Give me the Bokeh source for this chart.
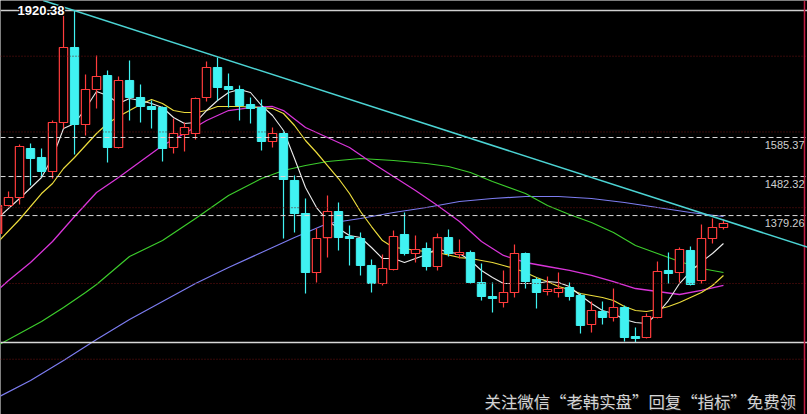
from bokeh.plotting import figure
from bokeh.models import Span, Slope, Label, Range1d, ColumnDataSource
from bokeh.embed import file_html
from bokeh.resources import INLINE

# ---- daily candles (index, open, high, low, close) ----
opens = [1331.9, 1405.9, 1427.0, 1556.3, 1532.6, 1495.6, 1625.0, 1823.0, 1619.7, 1712.1,
         1749.0, 1559.0, 1735.9, 1691.0, 1667.2, 1664.5, 1559.0, 1593.3, 1595.9, 1691.0,
         1770.2, 1720.0, 1712.1, 1672.5, 1664.5, 1574.8, 1595.9, 1471.9, 1384.7, 1229.0,
         1321.3, 1390.0, 1324.0, 1318.7, 1247.5, 1199.9, 1236.9, 1329.3, 1279.1, 1292.3,
         1244.8, 1321.3, 1276.5, 1281.8, 1202.6, 1165.6, 1149.8, 1176.2, 1279.1, 1210.5,
         1178.8, 1176.2, 1189.4, 1168.3, 1091.7, 1126.0, 1110.2, 1136.6, 1060.0, 1057.4,
         1110.2, 1234.3, 1229.0, 1287.1, 1207.9, 1318.7, 1347.8]
highs = [1424.3, 1442.8, 1566.9, 1569.5, 1556.3, 1630.3, 1912.7, 1920.38, 1751.7, 1801.9,
         1762.2, 1746.4, 1788.6, 1725.3, 1683.1, 1667.2, 1635.5, 1625.0, 1691.0, 1786.0,
         1796.6, 1754.3, 1722.7, 1691.0, 1685.7, 1611.8, 1603.9, 1485.1, 1424.3, 1345.1,
         1432.3, 1413.8, 1353.0, 1334.6, 1263.3, 1276.5, 1339.9, 1387.4, 1326.7, 1308.1,
         1331.9, 1342.5, 1316.1, 1287.1, 1252.7, 1202.6, 1234.3, 1302.9, 1281.8, 1215.8,
         1218.4, 1229.0, 1202.6, 1173.5, 1152.4, 1152.4, 1186.7, 1141.9, 1083.8, 1120.7,
         1258.0, 1281.8, 1295.0, 1297.6, 1355.7, 1371.5, 1368.9]
lows = [1318.7, 1403.2, 1408.5, 1458.7, 1479.8, 1477.1, 1609.1, 1540.5, 1590.7, 1661.9,
        1519.4, 1556.3, 1630.3, 1625.0, 1609.1, 1522.0, 1543.1, 1548.4, 1580.1, 1680.4,
        1683.1, 1664.5, 1630.3, 1622.3, 1551.1, 1559.0, 1318.7, 1334.6, 1173.5, 1202.6,
        1268.6, 1287.1, 1247.5, 1221.1, 1176.2, 1194.7, 1234.3, 1273.9, 1255.4, 1234.3,
        1234.3, 1271.2, 1265.9, 1199.9, 1155.0, 1123.4, 1136.6, 1163.0, 1186.7, 1133.9,
        1168.3, 1163.0, 1155.0, 1067.9, 1070.5, 1091.7, 1099.6, 1046.8, 1044.2, 1054.7,
        1108.0, 1199.9, 1202.6, 1194.7, 1199.9, 1305.5, 1342.5]
closes = [1405.9, 1427.0, 1561.6, 1529.9, 1495.6, 1625.0, 1823.0, 1619.7, 1712.1, 1746.4,
          1559.0, 1735.9, 1691.0, 1667.2, 1659.3, 1556.3, 1595.9, 1611.8, 1688.3, 1770.2,
          1717.4, 1712.1, 1669.9, 1661.9, 1574.8, 1595.9, 1474.5, 1384.7, 1229.0, 1318.7,
          1390.0, 1321.3, 1318.7, 1247.5, 1199.9, 1239.5, 1324.0, 1279.1, 1289.7, 1244.8,
          1321.3, 1279.1, 1281.8, 1202.6, 1165.6, 1160.3, 1176.2, 1279.1, 1205.2, 1176.2,
          1184.1, 1186.7, 1165.6, 1089.1, 1128.7, 1110.2, 1136.6, 1057.4, 1054.7, 1112.8,
          1231.6, 1226.3, 1289.7, 1197.3, 1318.7, 1347.8, 1358.3]
days = list(range(len(opens)))

# ---- moving averages (index, value) ----
ma5_idx = [0, 2, 4, 5, 6, 7, 8, 9, 10, 11, 12, 13, 14, 15, 16, 17, 18, 19, 20, 21, 22, 23, 24,
           25, 26, 27, 28, 29, 30, 31, 32, 33, 34, 35, 36, 37, 38, 39, 40, 41, 42, 43, 44, 45,
           46, 47, 48, 49, 50, 51, 52, 53, 54, 55, 56, 57, 58, 59, 60, 61, 62, 63, 64, 65, 66]
ma5_val = [1371.5, 1424.3, 1479.8, 1532.6, 1609.1, 1622.3, 1661.9, 1706.8, 1696.3, 1675.1,
           1688.3, 1683.1, 1675.1, 1664.5, 1638.2, 1622.3, 1625.0, 1656.6, 1683.1, 1704.2,
           1712.1, 1704.2, 1669.9, 1643.5, 1603.9, 1529.9, 1453.4, 1400.5, 1366.3, 1345.1,
           1326.7, 1321.3, 1295.0, 1265.9, 1265.9, 1255.4, 1265.9, 1276.5, 1292.3, 1281.8,
           1279.1, 1260.7, 1234.3, 1215.8, 1199.9, 1199.9, 1199.9, 1199.9, 1205.2, 1202.6,
           1192.0, 1168.3, 1147.1, 1128.7, 1120.7, 1104.9, 1097.0, 1094.3, 1120.7, 1155.0,
           1199.9, 1231.6, 1257.0, 1279.1, 1305.5]

ma10_idx = [0, 2, 4, 5, 6, 7, 8, 9, 10, 11, 12, 13, 14, 15, 16, 17, 18, 19, 20, 22, 24, 25,
            26, 27, 28, 29, 30, 31, 32, 33, 34, 35, 36, 37, 38, 40, 42, 43, 44, 45, 46, 47,
            48, 49, 50, 51, 52, 53, 54, 55, 56, 57, 58, 59, 60, 61, 62, 63, 64, 65, 66]
ma10_val = [1308.1, 1368.9, 1437.5, 1463.9, 1503.5, 1532.6, 1564.3, 1595.9, 1622.3, 1640.8,
            1656.6, 1672.5, 1685.7, 1675.1, 1656.6, 1651.4, 1651.4, 1656.6, 1667.2,
            1667.2, 1664.5, 1661.9, 1648.7, 1617.1, 1577.5, 1545.8, 1511.4, 1477.1, 1437.5,
            1390.0, 1350.4, 1313.4, 1295.0, 1292.3, 1287.1,
            1281.8, 1268.5, 1265.9, 1260.7, 1255.4, 1247.5, 1239.5, 1229.0, 1215.8, 1205.2,
            1192.0, 1184.1, 1173.5, 1168.3, 1163.0, 1155.0, 1139.3, 1128.7, 1126.0, 1131.3,
            1139.3, 1149.8, 1163.0, 1176.2, 1194.7, 1221.1]

ma20_idx = [0, 1, 3, 5, 7, 9, 11, 13, 15, 17, 19, 21, 23, 25, 26, 28, 30, 32, 34, 36, 38,
            40, 42, 44, 46, 48, 50, 52, 54, 56, 58, 60, 62, 64, 66]
ma20_val = [1181.5, 1207.9, 1255.4, 1310.8, 1376.8, 1440.2, 1479.8, 1522.0, 1564.3, 1595.9,
            1630.3, 1656.6, 1664.5, 1667.2, 1656.6, 1611.8, 1585.4, 1559.0, 1519.4, 1482.4,
            1445.5, 1405.9, 1363.6, 1310.8, 1273.9, 1255.4, 1244.8, 1234.3, 1221.1, 1205.2,
            1186.7, 1178.8, 1170.9, 1181.5, 1194.7]

ma60_idx = [0, 2, 4, 6, 8, 9, 12, 15, 18, 21, 24, 26, 28, 30, 33, 36, 39, 41, 43, 45, 48,
            50, 52, 54, 56, 58, 60, 62, 64, 66]
ma60_val = [1036.3, 1067.9, 1099.6, 1136.6, 1176.2, 1197.3, 1271.2, 1313.4, 1371.5, 1432.3,
            1477.1, 1498.2, 1511.5, 1522.0, 1529.9, 1524.6, 1516.7, 1508.8, 1493.0, 1469.2,
            1437.5, 1405.9, 1382.1, 1360.9, 1334.6, 1300.3, 1279.1, 1258.0, 1239.5, 1229.0]

ma120_idx = [0, 3, 6, 9, 12, 15, 18, 21, 24, 27, 30, 33, 36, 39, 42, 45, 48, 51, 54, 57, 60,
             63, 66]
ma120_val = [898.9, 943.9, 996.6, 1052.1, 1104.9, 1152.4, 1199.9, 1242.2, 1281.8, 1321.4,
             1358.3, 1371.5, 1387.4, 1400.5, 1416.4, 1424.3, 1429.6, 1429.6, 1424.3, 1413.8,
             1400.5, 1387.4, 1376.8]

# ---- reference levels ----
fib_levels = [1585.37, 1482.32, 1379.26]
fib_labels = ["1585.37", "1482.32", "1379.26"]
grid_levels = [1000, 1200, 1400, 1600, 1800]
high_label = "1920.38"
# descending resistance line through two anchors
trend_x = [7, 65]
trend_y = [1920.38, 1376.8]
watermark = "关注微信“老韩实盘”回复“指标”免费领"

UP = "#ff3c3c"
DOWN = "#40f2f2"

W, H = 807, 414
X0, X1 = 0.27, 73.64
Y0, Y1 = 854.1, 1947.05


def px_x(px):
    return X0 + px * (X1 - X0) / W


def px_y(py):
    return Y1 - py * (Y1 - Y0) / H


p = figure(width=W, height=H, x_range=Range1d(X0, X1), y_range=Range1d(Y0, Y1),
           output_backend="svg", toolbar_location=None, min_border=0,
           background_fill_color="black", border_fill_color="black",
           outline_line_color=None)
p.xaxis.visible = False
p.yaxis.visible = False
p.xgrid.visible = False
p.ygrid.visible = False

# price grid
for lv in grid_levels:
    p.add_layout(Span(location=lv, dimension="width", line_color="#6e1212",
                      line_width=1, line_dash="1 2"))

# period high / low
p.add_layout(Span(location=max(highs), dimension="width", line_color="#d0d0d0", line_width=1.5))
p.add_layout(Span(location=min(lows), dimension="width", line_color="#d8d8d8", line_width=1.5))

# retracement levels
for lv in fib_levels:
    p.add_layout(Span(location=lv, dimension="width", line_color="#dcdcdc",
                      line_width=1, line_dash="5 3"))

# right border line
p.add_layout(Span(location=px_x(804), dimension="height", line_color="#c41c44", line_width=1.5))

# moving averages
p.line(ma120_idx, ma120_val, line_color="#7c7cf0", line_width=1.2)
p.line(ma60_idx, ma60_val, line_color="#3ccc2c", line_width=1.2)
p.line(ma20_idx, ma20_val, line_color="#d834d8", line_width=1.3)
p.line(ma10_idx, ma10_val, line_color="#ecdc3c", line_width=1.2)
p.line(ma5_idx, ma5_val, line_color="#ececec", line_width=1.1)

# candles
up = [i for i in days if closes[i] >= opens[i]]
dn = [i for i in days if closes[i] < opens[i]]


def src(ix):
    return ColumnDataSource(dict(
        x=[days[i] for i in ix],
        hi=[highs[i] for i in ix],
        lo=[lows[i] for i in ix],
        top=[max(opens[i], closes[i]) for i in ix],
        bot=[min(opens[i], closes[i]) for i in ix],
    ))


s_up, s_dn = src(up), src(dn)
p.segment("x", "hi", "x", "lo", source=s_dn, line_color=DOWN, line_width=1.2)
p.vbar(x="x", top="top", bottom="bot", width=0.76, source=s_dn,
       fill_color=DOWN, line_color=DOWN, line_width=1)
p.segment("x", "hi", "x", "lo", source=s_up, line_color=UP, line_width=1.2)
p.vbar(x="x", top="top", bottom="bot", width=0.76, source=s_up,
       fill_color="black", line_color=UP, line_width=1.2)

# resistance line
gradient = (trend_y[1] - trend_y[0]) / (trend_x[1] - trend_x[0])
p.add_layout(Slope(gradient=gradient, y_intercept=trend_y[0] - gradient * trend_x[0],
                   line_color="#4cd4d4", line_width=1.5))

# level captions
for lv, txt in zip(fib_levels, fib_labels):
    p.add_layout(Label(x=X1, y=lv, x_offset=-3, y_offset=-3, text=txt,
                       text_font="Liberation Sans", text_font_size="11px",
                       text_color="#cfcfcf", text_align="right", text_baseline="top"))

hx = px_x(17)
for dx in (-1, 0, 1):
    for dy in (-1, 0, 1):
        if dx or dy:
            p.add_layout(Label(x=hx, y=max(highs), x_offset=dx, y_offset=dy, text=high_label,
                               text_font="Liberation Sans", text_font_size="13px",
                               text_font_style="bold", text_color="black",
                               text_align="left", text_baseline="middle"))
p.add_layout(Label(x=hx, y=max(highs), text=high_label, text_font="Liberation Sans",
                   text_font_size="13px", text_font_style="bold", text_color="white",
                   text_align="left", text_baseline="middle"))

# footer note
wx, wy = px_x(484), px_y(400)
p.add_layout(Label(x=wx, y=wy, x_offset=1, y_offset=-1, text=watermark,
                   text_font="Noto Sans CJK SC", text_font_size="16.4px",
                   text_color="#202020", text_baseline="middle"))
p.add_layout(Label(x=wx, y=wy, text=watermark, text_font="Noto Sans CJK SC",
                   text_font_size="16.4px", text_color="#d4d4d4", text_baseline="middle"))

open("out.html", "w").write(file_html(p, INLINE))
